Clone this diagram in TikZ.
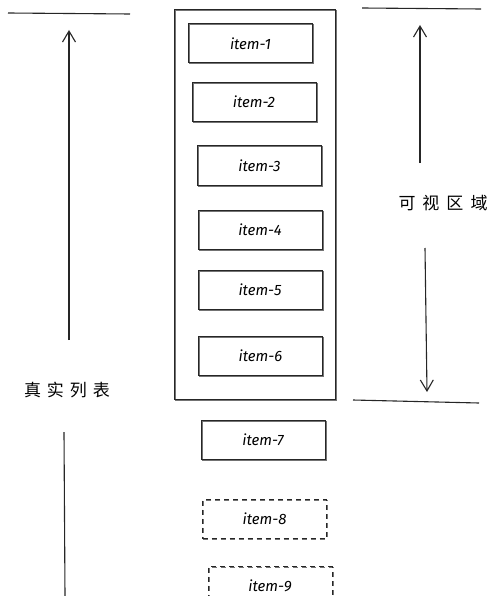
\documentclass[tikz,border=0pt]{standalone}
\usepackage{fontspec}
\usepackage{tikz}
\usetikzlibrary{arrows.meta}
\setmainfont{Fira Sans}
\newfontfamily\cjk{Noto Sans CJK SC}

\begin{document}
\begin{tikzpicture}[x=1pt, y=-1pt, >={Straight Barb[length=11pt, width=13pt]},
  sketch/.style={draw=black!85, line width=1pt,
    preaction={draw=black!55, line width=0.6pt, transform canvas={shift={(0.9pt,-0.8pt)}}}},
  every item/.style={sketch, minimum width=124pt, minimum height=39pt,
    font=\itshape\fontsize{15}{15}\selectfont},
  item hidden/.style={draw=black!85, line width=1pt, preaction={}, dash pattern=on 5pt off 4pt},
  guide/.style={draw=black!85, line width=1.1pt},
  side label/.style={font=\cjk\fontsize{17}{17}\selectfont}]

\useasboundingbox (0,0) rectangle (500,596);

% real list frame (the visible window)
\node [sketch, minimum width=161pt, minimum height=389pt]
  (viewport) at (254.5,204.5) {};

\foreach \n/\cx/\cy/\s in {1/250.5/43.5/shown, 2/254/102/shown, 3/259.5/165.5/shown,
    4/260/230/shown, 5/260/289.5/shown, 6/260.5/355.5/shown, 7/263/440/shown,
    8/264.5/519/hidden, 9/270/586/hidden}
  \node [every item/.try, item \s/.try] (item-\n) at (\cx,\cy) {item-\n};

% left side: real list
\coordinate (list-top-a) at (8,13);
\coordinate (list-top-b) at (130,14);
\coordinate (list-up-a) at (69,340);
\coordinate (list-up-b) at (69,30);
\coordinate (list-down-a) at (64,432);
\coordinate (list-down-b) at (65,596);
\draw [guide] (list-top-a) -- (list-top-b);
\draw [guide, ->] (list-up-a) -- (list-up-b);
\draw [guide] (list-down-a) -- (list-down-b);
\node [side label] (list-label) at (67,390) {真\hspace{6pt}实\hspace{6pt}列\hspace{6pt}表};

% right side: visible area
\coordinate (view-top-a) at (362,8);
\coordinate (view-top-b) at (481,9);
\coordinate (view-up-a) at (420,163);
\coordinate (view-up-b) at (420,25);
\coordinate (view-down-a) at (425,248);
\coordinate (view-down-b) at (427,392);
\coordinate (view-bot-a) at (353,400);
\coordinate (view-bot-b) at (479,403);
\draw [guide] (view-top-a) -- (view-top-b);
\draw [guide, ->] (view-up-a) -- (view-up-b);
\draw [guide, ->] (view-down-a) -- (view-down-b);
\draw [guide] (view-bot-a) -- (view-bot-b);
\node [side label] (view-label) at (443,203) {可\hspace{7pt}视\hspace{7pt}区\hspace{7pt}域};

\end{tikzpicture}
\end{document}
